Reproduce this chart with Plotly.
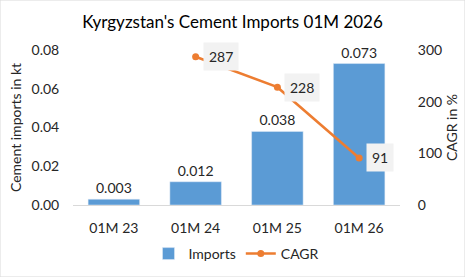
import plotly.graph_objects as go

categories = ["01M 23", "01M 24", "01M 25", "01M 26"]
imports = [0.003, 0.012, 0.038, 0.073]
cagr_cats = ["01M 24", "01M 25", "01M 26"]
cagr = [287, 228, 91]
left_ticks = [0, 0.02, 0.04, 0.06, 0.08]
right_ticks = [0, 100, 200, 300]

FONT = "Lato"
fig = go.Figure()
fig.add_trace(go.Bar(
    x=categories, y=imports, name="Imports", marker_color="#5b9bd5",
    text=[f"{v:.3f}" for v in imports], textposition="outside",
    textfont=dict(size=14, color="#262626"), cliponaxis=False, width=0.63,
))
fig.add_trace(go.Scatter(
    x=cagr_cats, y=cagr, name="CAGR", yaxis="y2", mode="lines+markers",
    line=dict(color="#ed7d31", width=2.5), marker=dict(size=7, color="#ed7d31"),
))
for c, v in zip(cagr_cats, cagr):
    fig.add_annotation(x=c, y=v, yref="y2", text=str(v), showarrow=False,
                       xanchor="left", xshift=7, bgcolor="#f2f2f2",
                       font=dict(size=14, color="#262626"), borderpad=5)

fig.update_layout(
    width=465, height=277,
    margin=dict(l=73, r=65, t=50, b=72, autoexpand=False),
    paper_bgcolor="white", plot_bgcolor="white",
    font=dict(family=FONT, size=14, color="#262626"),
    title=dict(text="Kyrgyzstan's Cement Imports 01M 2026", x=0.5, xanchor="center",
               y=0.92, yanchor="middle", font=dict(size=17, color="#000")),
    xaxis=dict(showline=True, linecolor="#d9d9d9", ticks="outside", ticklen=10,
               tickcolor="rgba(0,0,0,0)", tickfont=dict(size=14)),
    yaxis=dict(title=dict(text="Cement imports in kt", font=dict(size=14), standoff=6),
               range=[0, 0.08], tickvals=left_ticks, tickformat=".2f",
               ticks="outside", ticklen=10, tickcolor="rgba(0,0,0,0)",
               showgrid=False, zeroline=False),
    yaxis2=dict(title=dict(text="CAGR in %", font=dict(size=14), standoff=6),
                overlaying="y", side="right", range=[0, 300], tickvals=right_ticks,
                ticks="outside", ticklen=14, tickcolor="rgba(0,0,0,0)",
                showgrid=False, zeroline=False),
    legend=dict(orientation="h", x=0.5, xanchor="center", yref="container",
                y=(277 - 254) / 277, yanchor="middle", font=dict(size=14)),
    bargap=0.37,
    shapes=[dict(type="rect", xref="paper", yref="paper", x0=-73/327, x1=1+65/327,
                 y0=-72/155, y1=1+50/155, line=dict(color="#d9d9d9", width=1))],
)
fig.write_html("out.html")
